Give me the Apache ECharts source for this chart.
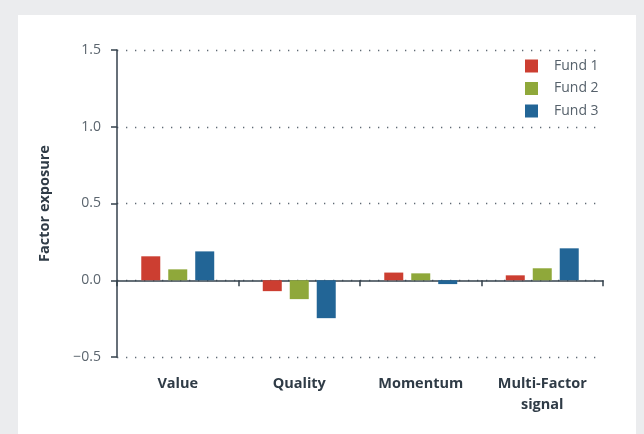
<!DOCTYPE html>
<html>
<head>
<meta charset="utf-8">
<script src="https://cdn.jsdelivr.net/npm/echarts@6/dist/echarts.min.js"></script>
<style>
html,body{margin:0;padding:0;background:#ebecee;}
#panel{position:absolute;left:18px;top:15px;width:618px;height:419px;background:#ffffff;}
#chart{position:absolute;left:0;top:0;width:644px;height:434px;}
</style>
</head>
<body>
<div id="panel"></div>
<div id="chart"></div>
<script>
const categories = ['Value', 'Quality', 'Momentum', 'Multi-Factor\nsignal'];
const fund1 = [0.156, -0.071, 0.050, 0.032];
const fund2 = [0.071, -0.123, 0.045, 0.078];
const fund3 = [0.188, -0.247, -0.025, 0.208];
const seriesNames = ['Fund 1', 'Fund 2', 'Fund 3'];
const yTicks = { min: -0.5, max: 1.5, interval: 0.5 };

const colors = ['#cc3e31', '#8fa83a', '#226596'];
const font = '"Open Sans", "Noto Sans", sans-serif';

const chart = echarts.init(document.getElementById('chart'), null, { renderer: 'canvas' });
const seriesData = [fund1, fund2, fund3];

chart.setOption({
  backgroundColor: 'transparent',
  animation: false,
  color: colors,
  textStyle: { fontFamily: font },
  grid: { left: 117, right: 41, top: 50, bottom: 77, containLabel: false, outerBoundsMode: 'none' },
  legend: {
    orient: 'vertical',
    left: 520,
    top: 54,
    itemWidth: 13,
    itemHeight: 13,
    itemGap: 8.5,
    icon: 'rect',
    data: seriesNames,
    textStyle: { fontFamily: font, fontSize: 14, color: '#56616b', padding: [0, 0, 0, 11] }
  },
  xAxis: {
    type: 'category',
    data: categories,
    axisLine: { onZero: true, lineStyle: { color: '#34414c', width: 1.5 } },
    axisTick: { show: true, length: 6, alignWithLabel: false, lineStyle: { color: '#34414c', width: 1.5 } },
    axisLabel: {
      margin: 16,
      fontFamily: font,
      fontSize: 14.5,
      fontWeight: 'bold',
      color: '#2f3b46',
      lineHeight: 21,
      interval: 0
    },
    splitLine: { show: false }
  },
  yAxis: {
    type: 'value',
    min: yTicks.min,
    max: yTicks.max,
    interval: yTicks.interval,
    name: 'Factor exposure',
    nameLocation: 'middle',
    nameGap: 65,
    nameTextStyle: { fontFamily: font, fontSize: 14.5, fontWeight: 'bold', color: '#2f3b46' },
    axisLine: { show: true, lineStyle: { color: '#34414c', width: 1.5 } },
    axisTick: { show: true, length: 6, lineStyle: { color: '#34414c', width: 1.5 } },
    axisLabel: {
      margin: 16,
      fontFamily: font,
      fontSize: 14,
      color: '#5b656e',
      formatter: v => (v < 0 ? '\u2212' + Math.abs(v).toFixed(1) : v.toFixed(1))
    },
    splitLine: { show: true, lineStyle: { color: '#5f6a74', width: 1.3, type: [1.3, 7.7] } }
  },
  series: seriesNames.map((name, i) => ({
    name: name,
    type: 'bar',
    data: seriesData[i],
    barWidth: 19,
    barGap: '42%',
    itemStyle: { color: colors[i] }
  }))
});
</script>
</body>
</html>
